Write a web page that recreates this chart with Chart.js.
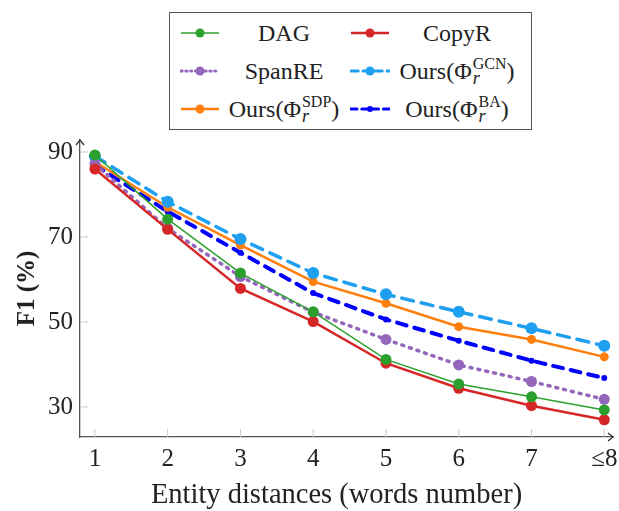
<!DOCTYPE html>
<html>
<head>
<meta charset="utf-8">
<script src="https://cdn.jsdelivr.net/npm/chart.js@4/dist/chart.umd.min.js"></script>
<style>
  html, body { margin: 0; padding: 0; background: #fff; }
  #wrap { position: relative; width: 619px; height: 511px; overflow: hidden; }
  #legend {
    position: absolute; left: 169px; top: 12px; width: 361px; height: 116px;
    border: 1.5px solid #555; background: #fff;
    font-family: 'Liberation Serif', 'Times New Roman', serif; font-size: 24px; color: #222;
  }
  .item { position: absolute; height: 30px; }
  .item svg { position: absolute; top: 8px; }
  .item .txt { position: absolute; top: 0; white-space: nowrap; transform: translateX(-50%); line-height: 30px; }
  .stack { display: inline-block; vertical-align: middle; font-size: 16px; line-height: 14px; text-align: left; margin-left: 1px; position: relative; top: -2px; }
  .stack span { display: block; }
  .stack i { display: block; font-size: 18px; }
</style>
</head>
<body>
<div id="wrap">
  <canvas id="chart" width="619" height="511"></canvas>
  <div id="legend"></div>
</div>
<script>
// x categories and y ticks
const CATEGORIES = ['1', '2', '3', '4', '5', '6', '7', '\u22648'];
const Y_TICKS = [30, 50, 70, 90];

// F1 (%) per entity distance
const DAG    = [89.3, 74.2, 61.5, 52.4, 41.2, 35.4, 32.4, 29.3];
const COPYR  = [86.0, 71.8, 57.9, 50.1, 40.3, 34.4, 30.3, 27.0];
const SPANRE = [87.2, 72.0, 60.7, 52.3, 45.9, 39.9, 36.0, 31.8];
const GCN    = [89.0, 78.3, 69.5, 61.5, 56.5, 52.4, 48.5, 44.4];
const SDP    = [87.7, 77.0, 68.1, 59.5, 54.4, 48.9, 45.9, 41.8];
const BA     = [86.9, 76.0, 66.3, 56.8, 50.6, 45.6, 40.9, 36.8];

const SERIES = [
  { label: 'DAG',    data: DAG,    color: '#2ca02c', width: 1.5, dash: [],      radius: 5.5 },
  { label: 'CopyR',  data: COPYR,  color: '#d62728', width: 2.5, dash: [],      radius: 5.5 },
  { label: 'SpanRE', data: SPANRE, color: '#9467bd', width: 3.5, dash: [2, 6],  radius: 5.5 },
  { label: 'GCN',    data: GCN,    color: '#1f9fef', width: 3.5, dash: [12, 8], radius: 6 },
  { label: 'SDP',    data: SDP,    color: '#ff7f0e', width: 2.5, dash: [],      radius: 4.5 },
  { label: 'BA',     data: BA,     color: '#0000ff', width: 4,   dash: [10, 8], radius: 3 },
];

const SERIF = "'Liberation Serif', 'Times New Roman', serif";
const AXIS = '#555';

// short inward ticks + arrow heads on the axes
const axisDecor = {
  id: 'axisDecor',
  afterDraw(chart) {
    const { ctx, chartArea: a, scales: { x, y } } = chart;
    ctx.save();
    ctx.strokeStyle = '#c8c8c8';
    ctx.lineWidth = 1;
    CATEGORIES.forEach((c, i) => {
      const px = x.getPixelForValue(i + 1);
      ctx.beginPath(); ctx.moveTo(px, a.bottom); ctx.lineTo(px, a.bottom - 8); ctx.stroke();
    });
    Y_TICKS.forEach(v => {
      const py = y.getPixelForValue(v);
      ctx.beginPath(); ctx.moveTo(a.left, py); ctx.lineTo(a.left + 8, py); ctx.stroke();
    });
    ctx.strokeStyle = '#333';
    ctx.lineWidth = 1.3;
    ctx.beginPath();
    ctx.moveTo(a.left - 4, a.top + 5); ctx.lineTo(a.left, a.top); ctx.lineTo(a.left + 4, a.top + 5);
    ctx.moveTo(a.right - 5, a.bottom - 4); ctx.lineTo(a.right, a.bottom); ctx.lineTo(a.right - 5, a.bottom + 4);
    ctx.stroke();
    ctx.restore();
  }
};

new Chart(document.getElementById('chart').getContext('2d'), {
  type: 'line',
  data: {
    datasets: SERIES.map(s => ({
      label: s.label,
      data: s.data.map((v, i) => ({ x: i + 1, y: v })),
      borderColor: s.color,
      backgroundColor: s.color,
      borderWidth: s.width,
      borderDash: s.dash,
      borderCapStyle: s.dash.length ? 'round' : 'butt',
      pointRadius: s.radius,
      pointBorderWidth: 0,
      pointBackgroundColor: s.color,
      tension: 0,
      fill: false,
    })),
  },
  options: {
    responsive: false,
    animation: false,
    layout: { padding: { top: 140, right: 2, left: 0, bottom: 0 } },
    plugins: { legend: { display: false }, tooltip: { enabled: false } },
    scales: {
      x: {
        type: 'linear',
        min: 0.795,
        max: 8.12,
        afterBuildTicks: s => { s.ticks = CATEGORIES.map((c, i) => ({ value: i + 1 })); },
        afterFit: s => { s.height = 74; s.paddingLeft = 0; s.paddingRight = 0; },
        ticks: {
          autoSkip: false, maxRotation: 0, padding: 7, color: '#222',
          font: { family: SERIF, size: 25 },
          callback: v => CATEGORIES[v - 1],
        },
        grid: { display: false, drawTicks: false },
        border: { color: AXIS, width: 1.3 },
        title: {
          display: true, text: 'Entity distances (words number)\u2002\u2009', color: '#222',
          font: { family: SERIF, size: 28.5, lineHeight: 1 }, padding: { top: 0, bottom: 1 },
        },
      },
      y: {
        min: 22.94,
        max: 92.82,
        afterBuildTicks: s => { s.ticks = Y_TICKS.map(v => ({ value: v })); },
        afterFit: s => { s.width = 80; s.paddingTop = 0; s.paddingBottom = 0; },
        ticks: { padding: 7, color: '#222', font: { family: SERIF, size: 25 } },
        grid: { display: false, drawTicks: false },
        border: { color: AXIS, width: 1.3 },
        title: {
          display: true, text: 'F1 (%)', color: '#222',
          font: { family: SERIF, size: 25, weight: 'bold', lineHeight: 1.2 }, padding: { top: 13, bottom: 0 },
        },
      },
    },
  },
  plugins: [axisDecor],
});

// legend (2 columns, row-wise)
const LEGEND_TEXT = [
  'DAG', 'CopyR', 'SpanRE',
  'Ours(\u03a6<span class="stack"><span>GCN</span><i>r</i></span>)',
  'Ours(\u03a6<span class="stack"><span>SDP</span><i>r</i></span>)',
  'Ours(\u03a6<span class="stack"><span>BA</span><i>r</i></span>)',
];
const legend = document.getElementById('legend');
SERIES.forEach((s, i) => {
  const col = i % 2, row = Math.floor(i / 2);
  const el = document.createElement('div');
  el.className = 'item';
  el.style.left = (col ? 180 : 10) + 'px';
  el.style.top = (5 + row * 38) + 'px';
  const dash = s.dash.length ? `stroke-dasharray="${s.dash.map(d => d * 0.6).join(' ')}" stroke-linecap="round"` : '';
  el.innerHTML =
    `<svg width="40" height="14"><line x1="1" y1="7" x2="39" y2="7" stroke="${s.color}" stroke-width="${Math.min(s.width, 3)}" ${dash}/>` +
    `<circle cx="20" cy="7" r="${Math.min(s.radius, 4.5)}" fill="${s.color}"/></svg>` +
    `<span class="txt" style="left:${col ? 107 : 104}px">${LEGEND_TEXT[i]}</span>`;
  legend.appendChild(el);
});
</script>
</body>
</html>
